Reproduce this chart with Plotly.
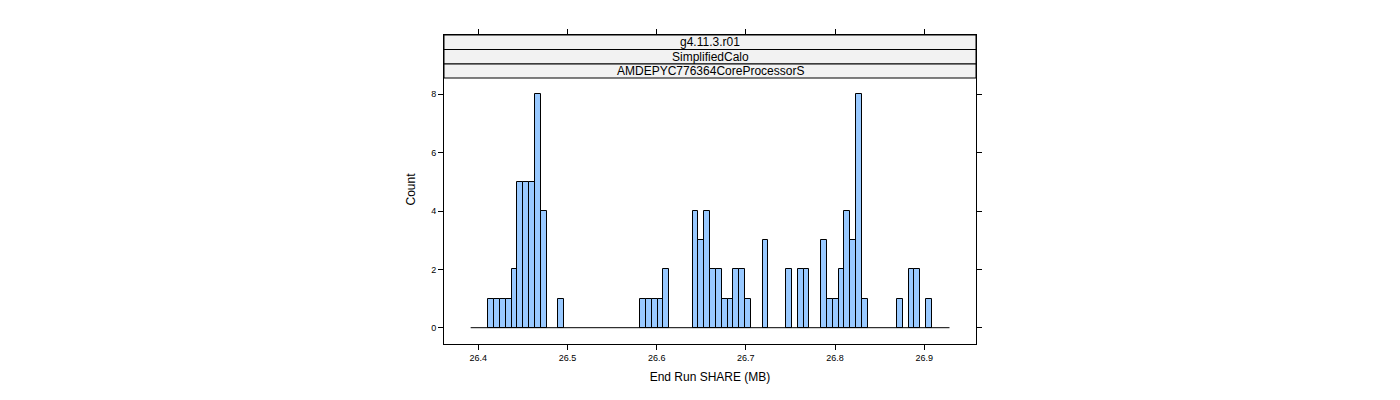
import plotly.graph_objects as go

# ---- data ----
bin_start = 26.39144
bin_width = 0.006548
n_bins = 82
nonzero_bins = [3, 4, 5, 6, 7, 8, 9, 10, 11, 12, 15,
                29, 30, 31, 32, 33,
                38, 39, 40, 41, 42, 43, 44, 45, 46, 47,
                50, 54, 56, 57,
                60, 61, 62, 63, 64, 65, 66, 67,
                73, 75, 76, 78]
nonzero_counts = [1, 1, 1, 1, 2, 5, 5, 5, 8, 4, 1,
                  1, 1, 1, 1, 2,
                  4, 3, 4, 2, 2, 1, 1, 2, 2, 1,
                  3, 2, 2, 2,
                  3, 1, 1, 2, 4, 3, 8, 1,
                  1, 2, 2, 1]
strip_labels = ["g4.11.3.r01", "SimplifiedCalo", "AMDEPYC776364CoreProcessorS"]
x_ticks = [26.4, 26.5, 26.6, 26.7, 26.8, 26.9]
y_ticks = [0, 2, 4, 6, 8]
x_title = "End Run SHARE (MB)"
y_title = "Count"

# ---- build ----
breaks = [bin_start + i * bin_width for i in range(n_bins + 1)]
centers = [bin_start + (b + 0.5) * bin_width for b in nonzero_bins]

FONT = "Liberation Sans, Arial, sans-serif"
fig = go.Figure()
fig.add_trace(go.Scatter(x=[breaks[0], breaks[-1]], y=[0, 0], mode="lines",
                         line=dict(color="black", width=1), hoverinfo="skip"))
fig.add_trace(go.Bar(x=centers, y=nonzero_counts, width=bin_width,
                     marker=dict(color="#99c9ff", line=dict(color="black", width=1))))

# panel geometry (pixels, page coords; page has 8px body margin)
OFF = 8
W, H = 1400, 400
left, right, top, bottom = 444 - OFF, 976 - OFF, 35 - OFF, 344 - OFF
ph = bottom - top
strip_edges = [35 - OFF, 49.5 - OFF, 64 - OFF, 78 - OFF]

def py(y):
    return (bottom - y) / ph

for i, lab in enumerate(strip_labels):
    y0, y1 = strip_edges[i + 1], strip_edges[i]
    fig.add_shape(type="rect", xref="paper", yref="paper", x0=0, x1=1,
                  y0=py(y0), y1=py(y1), fillcolor="#f2f2f2",
                  line=dict(color="black", width=1), layer="above")
    fig.add_annotation(xref="paper", yref="paper", x=0.5, y=(py(y0) + py(y1)) / 2,
                       text=lab, showarrow=False, font=dict(family=FONT, size=12, color="black"),
                       xanchor="center", yanchor="middle")

# y range: 0 at 327.7px, 8 at 94.3px (page coords)
ppc = (327.7 - 94.3) / 8
zero_px = 327.7 - OFF
y_lo = -(bottom - zero_px) / ppc
y_hi = (zero_px - top) / ppc

fig.update_layout(
    width=W, height=H, showlegend=False, bargap=0,
    plot_bgcolor="white", paper_bgcolor="white",
    margin=dict(l=left, r=W - right, t=top, b=H - bottom),
    font=dict(family=FONT, color="black"),
    xaxis=dict(range=[26.36153, 26.9581], tickvals=x_ticks, ticks="outside", ticklen=5,
               tickcolor="black", showline=True, linecolor="black", linewidth=1, mirror="ticks",
               showgrid=False, zeroline=False, tickfont=dict(size=9),
               title=dict(text=x_title, font=dict(size=12), standoff=10)),
    yaxis=dict(range=[y_lo, y_hi], tickvals=y_ticks, ticks="outside", ticklen=5,
               tickcolor="black", showline=True, linecolor="black", linewidth=1, mirror="ticks",
               showgrid=False, zeroline=False, tickfont=dict(size=9),
               title=dict(text=y_title, font=dict(size=12), standoff=12)),
)

fig.write_html("out.html")
